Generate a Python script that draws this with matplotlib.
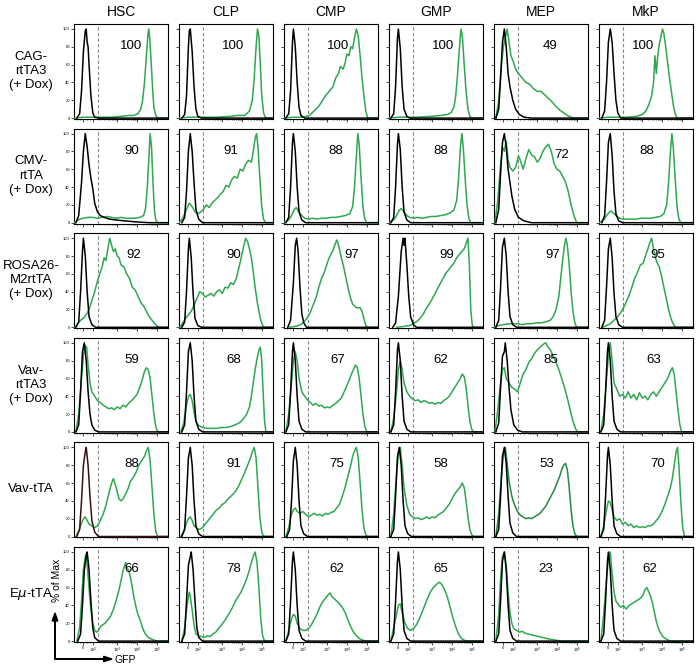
import numpy as np
import matplotlib
matplotlib.use("Agg")
import matplotlib.pyplot as plt

plt.rcParams['font.family'] = ['Liberation Sans', 'DejaVu Sans']

populations = ["HSC", "CLP", "CMP", "GMP", "MEP", "MkP"]
strains = ["CAG-\nrtTA3\n(+ Dox)", "CMV-\nrtTA\n(+ Dox)", "ROSA26-\nM2rtTA\n(+ Dox)",
           "Vav-\nrtTA3\n(+ Dox)", "Vav-tTA", "E$\\mu$-tTA"]
pct_gfp = [
    [100, 100, 100, 100, 49, 100],
    [90, 91, 88, 88, 72, 88],
    [92, 90, 97, 99, 97, 95],
    [59, 68, 67, 62, 85, 63],
    [88, 91, 75, 58, 53, 70],
    [66, 78, 62, 65, 23, 62],
]
label_x = [
    [61, 58, 58, 58, 60, 47],
    [61, 55, 55, 55, 72, 51],
    [64, 58, 72, 61, 63, 62],
    [61, 58, 57, 55, 60, 58],
    [61, 58, 56, 55, 56, 62],
    [61, 58, 56, 55, 55, 54],
]
label_y = [
    [81, 81, 81, 81, 81, 81],
    [81, 81, 81, 81, 76, 81],
    [81, 81, 81, 81, 81, 81],
    [81, 81, 81, 81, 81, 81],
    [81, 81, 81, 81, 81, 81],
    [81, 81, 81, 81, 81, 81],
]
gate_x = 25
tick_pos = [10, 20, 46, 67, 88]
tick_text = ["0", "10$^2$", "10$^3$", "10$^4$", "10$^5$"]

# ---- control (black) histograms: (GFP channel, % of max) ----
blk_cag_hsc = [(3,0),(6,5),(8,30),(10,75),(12,98),(13,100),(14,85),(15,80),(16,60),(18,25),(20,6),(22,1),(26,0),(100,0)]
blk_cag_clp = [(3,0),(6,4),(8,25),(10,80),(11,98),(12,100),(14,75),(16,35),(18,10),(20,2),(24,0),(100,0)]
blk_cag_cmp = [(2,0),(5,5),(7,30),(9,85),(10,100),(12,80),(14,40),(16,12),(18,3),(22,0),(100,0)]
blk_cag_gmp = [(2,0),(5,5),(7,35),(9,90),(10,100),(12,78),(14,35),(16,10),(19,2),(22,0),(100,0)]
blk_cag_mep = [(2,0),(5,10),(7,45),(9,85),(11,100),(13,80),(15,50),(17,35),(20,20),(23,10),(27,4),(32,1),(40,0),(100,0)]
blk_cag_mkp = [(3,0),(6,8),(8,40),(10,85),(12,100),(14,85),(16,50),(18,20),(20,6),(23,0),(100,0)]

blk_cmv_hsc = [(2,0),(5,8),(8,45),(10,80),(12,100),(14,85),(16,65),(18,50),(20,38),(22,22),(25,12),(28,8),(32,6),(38,4),(45,3),(55,2),(65,1),(80,0),(100,0)]
blk_cmv_clp = [(3,0),(6,6),(8,35),(10,80),(12,100),(14,80),(16,45),(18,15),(21,4),(25,0),(100,0)]
blk_cmv_cmp = [(2,0),(5,6),(7,40),(9,90),(10,100),(12,80),(14,40),(16,12),(19,3),(23,0),(100,0)]
blk_cmv_gmp = [(2,0),(5,6),(7,40),(9,88),(10,100),(12,82),(14,40),(16,12),(19,3),(23,0),(100,0)]
blk_cmv_mep = [(2,0),(5,15),(7,55),(9,90),(11,100),(13,85),(15,60),(17,45),(19,30),(22,15),(26,6),(32,2),(40,0),(100,0)]
blk_cmv_mkp = [(3,0),(6,8),(8,45),(10,90),(12,100),(14,75),(16,35),(18,10),(21,2),(25,0),(100,0)]

blk_r26_hsc = [(2,0),(5,6),(7,40),(9,85),(10,100),(12,80),(14,40),(16,12),(19,3),(23,0),(100,0)]
blk_r26_clp = [(3,0),(6,6),(8,40),(10,88),(11,100),(13,78),(15,38),(17,10),(20,2),(24,0),(100,0)]
blk_r26_cmp = [(4,0),(7,8),(10,50),(12,92),(13.5,100),(15,85),(17,45),(19,15),(21,5),(24,0),(100,0)]
blk_r26_gmp = [(4,0),(7,5),(10,35),(13,85),(15,100),(16,92),(17,100),(19,70),(21,35),(23,12),(26,3),(29,0),(100,0)]
blk_r26_mep = [(2,0),(5,8),(7,45),(9,90),(11,100),(13,80),(15,40),(17,12),(20,3),(24,0),(100,0)]
blk_r26_mkp = [(3,0),(6,8),(8,45),(10,88),(12,100),(14,78),(16,38),(18,12),(21,3),(25,0),(100,0)]

blk_vr_hsc = [(2,0),(5,8),(7,45),(9,90),(11,100),(13,80),(15,45),(17,20),(19,8),(22,2),(26,0),(100,0)]
blk_vr_clp = [(3,0),(6,8),(8,45),(10,90),(12,100),(14,80),(16,40),(18,12),(21,3),(25,0),(100,0)]
blk_vr_cmp = [(2,0),(5,8),(7,45),(9,90),(10,100),(12,80),(14,40),(16,12),(19,3),(23,0),(100,0)]
blk_vr_gmp = [(2,0),(5,8),(7,45),(9,92),(10,100),(12,80),(14,40),(16,12),(19,3),(23,0),(100,0)]
blk_vr_mep = [(2,0),(5,10),(7,50),(9,85),(11,90),(12,100),(14,80),(16,50),(18,25),(21,8),(25,2),(30,0),(100,0)]
blk_vr_mkp = [(2,0),(5,8),(7,45),(9,90),(10,100),(12,80),(14,40),(16,12),(19,3),(23,0),(100,0)]

blk_vt_hsc = [(3,0),(6,8),(8,40),(10,80),(12,95),(13,100),(15,80),(17,45),(19,18),(22,5),(26,0),(100,0)]
blk_vt_clp = [(3,0),(6,8),(8,45),(10,88),(12,100),(14,80),(16,40),(18,12),(21,3),(25,0),(100,0)]
blk_vt_cmp = [(3,0),(6,8),(8,40),(10,85),(12,100),(14,80),(16,40),(18,12),(21,3),(25,0),(100,0)]
blk_vt_gmp = [(2,0),(5,8),(7,45),(9,90),(11,100),(13,80),(15,40),(17,12),(20,3),(24,0),(100,0)]
blk_vt_mep = [(2,0),(5,8),(7,45),(9,90),(11,100),(13,82),(15,45),(17,15),(20,4),(24,0),(100,0)]
blk_vt_mkp = [(2,0),(5,8),(7,45),(9,90),(10,100),(12,80),(14,40),(16,12),(19,3),(23,0),(100,0)]

blk_em_hsc = [(4,0),(7,8),(9,40),(11,80),(13,95),(14,100),(16,80),(18,45),(20,15),(22,4),(26,0),(100,0)]
blk_em_clp = [(3,0),(6,8),(8,45),(10,85),(12,95),(13,100),(15,80),(17,45),(19,15),(21,4),(25,0),(100,0)]
blk_em_cmp = [(2,0),(5,8),(7,45),(9,90),(10,100),(12,80),(14,40),(16,12),(19,3),(23,0),(100,0)]
blk_em_gmp = [(2,0),(5,8),(7,45),(9,90),(10,100),(12,80),(14,40),(16,12),(19,3),(23,0),(100,0)]
blk_em_mep = [(2,0),(5,8),(7,45),(9,90),(11,100),(13,80),(15,40),(17,12),(20,3),(24,0),(100,0)]
blk_em_mkp = [(2,0),(5,8),(7,45),(9,90),(10,100),(12,80),(14,40),(16,12),(19,3),(23,0),(100,0)]

# ---- GFP (green) histograms ----
grn_cag_hsc = [(0,0),(10,1),(20,1),(30,1),(40,1),(50,2),(58,3),(64,3),(68,5),(71,10),(73,20),(75,40),(77,70),(78.5,92),(79.5,100),(80.5,90),(82,65),(83.5,35),(85,12),(87,3),(89,0),(100,0)]
grn_cag_clp = [(0,0),(10,1),(20,1),(30,1),(40,1),(55,2),(62,3),(70,3),(75,8),(78,20),(80,45),(82,80),(83.5,100),(85,92),(86.5,60),(88,25),(90,6),(92,0),(100,0)]
grn_cag_cmp = [(0,0),(10,1),(20,1),(27,3),(32,8),(36,12),(40,18),(44,25),(48,30),(52,35),(55,45),(58,50),(60,58),(63,55),(65,62),(67,72),(69,70),(71,80),(73,78),(75,90),(77,100),(79,92),(81,70),(83,45),(85,25),(87,8),(89,0),(100,0)]
grn_cag_gmp = [(0,0),(10,1),(20,1),(30,1),(45,2),(55,3),(62,4),(66,6),(69,12),(71,25),(73,50),(75,80),(76.5,100),(78,92),(80,60),(82,30),(84,10),(86,2),(88,0),(100,0)]
grn_cag_mep = [(2,0),(5,20),(8,60),(10,80),(12,90),(14,100),(16,85),(18,70),(20,65),(23,55),(26,50),(30,45),(34,40),(38,38),(42,33),(46,30),(50,30),(54,26),(58,22),(62,18),(66,13),(70,9),(74,6),(78,3),(82,1),(86,0),(100,0)]
grn_cag_mkp = [(0,0),(10,1),(20,1),(30,1),(40,2),(46,4),(50,8),(53,15),(56,25),(58,40),(59.5,70),(61,50),(62.5,70),(64,82),(66,92),(67.5,100),(69,95),(71,80),(73,62),(75,45),(77,30),(79,15),(81,5),(83,0),(100,0)]

grn_cmv_hsc = [(0,0),(3,2),(6,4),(10,5),(15,6),(20,6),(25,5),(30,6),(35,7),(40,6),(45,5),(50,6),(55,5),(60,5),(65,5),(70,6),(74,8),(76,15),(78,40),(80,80),(81,100),(82.5,85),(84,45),(85.5,15),(87,3),(89,0),(100,0)]
grn_cmv_clp = [(0,0),(4,5),(8,15),(11,22),(14,18),(17,12),(20,10),(23,12),(26,15),(29,20),(32,17),(35,22),(38,25),(41,28),(44,32),(47,35),(50,42),(53,40),(56,48),(59,52),(62,50),(65,60),(68,58),(71,66),(74,70),(77,68),(79,80),(81,95),(82.5,100),(84,85),(86,50),(88,18),(90,4),(92,0),(100,0)]
grn_cmv_cmp = [(0,0),(5,3),(8,8),(11,15),(13,17),(16,12),(19,8),(22,5),(26,4),(30,5),(35,4),(40,5),(45,5),(50,6),(55,6),(60,7),(65,8),(70,10),(73,18),(75,40),(77,75),(78.5,100),(80,88),(82,50),(84,18),(86,4),(88,0),(100,0)]
grn_cmv_gmp = [(0,0),(5,3),(8,8),(11,14),(13,16),(16,12),(19,8),(22,6),(26,5),(30,6),(35,5),(40,6),(45,7),(50,7),(55,8),(60,9),(65,11),(69,14),(72,25),(74,50),(76,85),(77.5,100),(79,85),(81,50),(83,20),(85,5),(87,0),(100,0)]
grn_cmv_mep = [(1,0),(4,25),(7,65),(9,85),(11,80),(13,92),(15,70),(17,62),(20,58),(23,62),(26,75),(28,70),(31,60),(34,72),(37,82),(40,76),(43,74),(46,68),(49,72),(52,80),(55,85),(58,88),(61,80),(64,66),(67,60),(70,58),(73,52),(76,46),(79,35),(82,20),(85,8),(88,0),(100,0)]
grn_cmv_mkp = [(0,0),(5,3),(8,8),(11,12),(13,13),(16,10),(19,7),(22,5),(26,4),(30,4),(35,4),(40,4),(45,5),(50,5),(55,5),(60,6),(65,7),(69,10),(72,20),(74,45),(76,80),(77.5,100),(79,85),(81,50),(83,18),(85,4),(87,0),(100,0)]

grn_r26_hsc = [(1,0),(4,4),(7,8),(10,10),(13,14),(16,20),(19,30),(22,40),(25,52),(28,62),(30,68),(32,78),(34,75),(36,88),(38,100),(40,92),(42,85),(44,88),(46,80),(48,78),(50,70),(53,68),(56,60),(59,55),(62,45),(65,42),(68,35),(71,28),(74,24),(77,18),(80,12),(83,8),(86,4),(89,1),(92,0),(100,0)]
grn_r26_clp = [(1,0),(4,5),(7,10),(10,14),(13,18),(16,25),(19,32),(22,40),(25,38),(28,34),(31,36),(34,38),(37,35),(40,40),(43,42),(46,38),(49,45),(52,44),(55,50),(58,48),(61,55),(64,68),(67,82),(69,92),(71,100),(73,96),(75,88),(77,78),(79,62),(81,45),(83,30),(85,18),(87,8),(89,2),(91,0),(100,0)]
grn_r26_cmp = [(6,0),(12,1),(18,3),(22,7),(25,11),(28,17),(31,25),(34,33),(37,45),(40,55),(43,62),(46,72),(48,78),(50,82),(52,86),(54,92),(56,98),(57,96),(59,88),(61,78),(63,70),(65,60),(67,50),(69,40),(71,32),(73,26),(75,24),(77,22),(79,22),(81,22),(83,18),(85,10),(87,2),(89,0),(100,0)]
grn_r26_gmp = [(8,0),(16,1),(22,2),(26,4),(30,7),(33,10),(36,14),(39,20),(42,25),(45,30),(48,36),(51,42),(54,48),(57,54),(60,60),(63,64),(66,68),(69,72),(72,78),(75,82),(78,86),(80,88),(82,94),(84,100),(85.5,70),(87,20),(88.5,3),(90,0),(100,0)]
grn_r26_mep = [(0,0),(5,2),(10,3),(15,4),(20,4),(25,4),(30,3),(35,4),(40,4),(45,5),(50,5),(55,6),(60,8),(63,12),(66,20),(69,35),(71,55),(73,75),(75,92),(76.5,100),(78,92),(80,70),(82,40),(84,18),(86,5),(88,0),(100,0)]
grn_r26_mkp = [(4,0),(8,2),(12,4),(16,8),(20,12),(24,18),(28,26),(32,36),(35,45),(38,55),(41,62),(44,70),(47,72),(50,82),(52,88),(54,95),(56,100),(58,88),(60,78),(62,72),(64,68),(66,60),(68,50),(70,40),(72,30),(74,20),(76,12),(78,6),(80,2),(82,0),(100,0)]

grn_vr_hsc = [(2,0),(5,20),(8,60),(10,85),(12,97),(13.5,95),(15,75),(17,55),(19,45),(22,40),(25,35),(28,33),(31,30),(34,28),(37,26),(40,27),(43,25),(46,28),(49,26),(52,30),(55,28),(58,32),(61,35),(64,38),(67,42),(70,50),(73,60),(75,68),(77,72),(79,70),(81,60),(83,40),(85,20),(87,6),(89,0),(100,0)]
grn_vr_clp = [(2,0),(5,10),(8,30),(10,40),(12,42),(14,35),(16,22),(18,12),(21,7),(25,5),(30,4),(35,4),(40,4),(45,5),(50,5),(55,6),(60,8),(64,10),(68,14),(72,20),(75,28),(77,40),(79,55),(81,70),(83,82),(85,92),(86.5,95),(88,80),(89.5,45),(91,12),(92.5,0),(100,0)]
grn_vr_cmp = [(2,0),(5,20),(8,55),(10,80),(12,90),(14,80),(16,60),(19,45),(22,40),(25,36),(28,33),(31,30),(34,32),(37,29),(40,30),(43,27),(46,28),(49,27),(52,30),(55,32),(58,35),(61,38),(64,45),(67,52),(70,60),(73,68),(76,75),(78,72),(80,60),(82,40),(84,20),(86,6),(88,0),(100,0)]
grn_vr_gmp = [(2,0),(5,15),(8,45),(10,70),(12,80),(14,70),(16,55),(19,45),(22,40),(25,37),(28,35),(31,36),(34,33),(37,35),(40,34),(43,32),(46,33),(49,31),(52,33),(55,32),(58,35),(61,37),(64,40),(67,45),(70,50),(73,55),(76,60),(78,65),(80,62),(82,50),(84,30),(86,12),(88,3),(90,0),(100,0)]
grn_vr_mep = [(1,0),(4,25),(7,55),(9,70),(11,72),(13,60),(16,55),(19,50),(22,48),(25,45),(28,55),(31,65),(34,70),(37,78),(40,82),(43,88),(46,92),(49,95),(52,98),(55,100),(57,96),(60,92),(63,85),(66,78),(69,70),(72,60),(75,50),(78,38),(81,25),(84,12),(87,3),(89,0),(100,0)]
grn_vr_mkp = [(2,0),(5,20),(8,60),(10,85),(12,100),(14,80),(16,55),(19,48),(22,40),(25,42),(28,38),(31,45),(34,38),(37,42),(40,36),(43,44),(46,38),(49,40),(52,36),(55,42),(58,45),(61,40),(64,45),(67,50),(70,55),(73,60),(76,68),(78,72),(80,65),(82,45),(84,25),(86,8),(88,0),(100,0)]

grn_vt_hsc = [(2,0),(5,6),(8,15),(10,20),(12,22),(14,18),(16,14),(19,12),(22,10),(25,12),(28,18),(31,25),(34,35),(37,48),(40,60),(42,65),(44,58),(46,50),(48,42),(50,40),(52,42),(54,46),(56,50),(58,55),(60,62),(63,66),(66,72),(69,80),(72,85),(75,90),(77,96),(79,100),(81,85),(83,55),(85,25),(87,6),(89,0),(100,0)]
grn_vt_clp = [(2,0),(5,6),(8,15),(10,20),(12,22),(14,18),(16,12),(19,9),(22,8),(25,10),(28,14),(31,18),(34,22),(37,26),(40,30),(43,32),(46,36),(49,38),(52,42),(55,45),(58,48),(61,52),(64,58),(67,65),(70,72),(73,80),(76,88),(78,95),(80,100),(82,88),(84,55),(86,22),(88,5),(90,0),(100,0)]
grn_vt_cmp = [(2,0),(5,10),(8,25),(10,30),(12,32),(14,28),(17,26),(20,28),(23,25),(26,22),(29,24),(32,26),(35,24),(38,25),(41,23),(44,26),(47,25),(50,27),(53,28),(56,32),(59,36),(62,45),(65,55),(68,68),(71,80),(73,90),(75,96),(77,100),(79,88),(81,60),(83,30),(85,10),(87,2),(89,0),(100,0)]
grn_vt_gmp = [(2,0),(5,25),(8,70),(10,92),(12,100),(14,80),(16,55),(19,35),(22,25),(25,22),(28,20),(31,21),(34,19),(37,20),(40,22),(43,20),(46,22),(49,21),(52,24),(55,26),(58,28),(61,32),(64,36),(67,42),(70,48),(73,52),(76,56),(78,60),(80,55),(82,40),(84,22),(86,8),(88,2),(90,0),(100,0)]
grn_vt_mep = [(2,0),(5,25),(8,70),(10,92),(12,100),(14,82),(16,62),(19,45),(22,35),(25,28),(28,24),(31,22),(34,20),(37,21),(40,20),(43,22),(46,24),(49,26),(52,30),(55,34),(58,40),(61,46),(64,52),(67,60),(70,68),(72,75),(74,80),(76,82),(78,75),(80,55),(82,30),(84,12),(86,3),(88,0),(100,0)]
grn_vt_mkp = [(2,0),(5,12),(8,30),(10,40),(12,38),(14,30),(16,22),(19,18),(22,20),(25,14),(28,16),(31,12),(34,14),(37,10),(40,12),(43,10),(46,11),(49,10),(52,12),(55,12),(58,14),(61,18),(64,22),(67,28),(70,36),(73,45),(76,55),(78,65),(80,80),(82,95),(83.5,100),(85,80),(87,40),(89,10),(91,0),(100,0)]

grn_em_hsc = [(3,0),(6,15),(8,45),(10,80),(12,95),(13,98),(14,85),(16,60),(18,35),(20,20),(22,12),(24,10),(26,12),(28,16),(30,18),(33,20),(36,24),(39,28),(42,36),(45,46),(48,58),(50,68),(52,78),(54,85),(55,88),(56,82),(58,80),(60,72),(62,60),(64,48),(66,38),(68,30),(70,25),(72,18),(74,12),(76,8),(79,4),(83,2),(88,0),(100,0)]
grn_em_clp = [(3,0),(6,15),(8,35),(10,50),(11,55),(12,50),(14,35),(16,18),(18,8),(21,6),(24,5),(27,4),(30,6),(33,5),(36,8),(39,10),(42,14),(45,18),(48,22),(51,27),(54,32),(57,38),(60,45),(63,50),(66,55),(69,62),(72,70),(75,80),(77,88),(79,95),(81,100),(83,88),(85,60),(87,25),(89,6),(91,0),(100,0)]
grn_em_cmp = [(2,0),(5,12),(8,25),(10,30),(12,28),(14,20),(17,14),(20,12),(23,12),(26,14),(29,18),(32,24),(35,30),(38,38),(41,44),(44,48),(47,52),(49,54),(51,50),(53,48),(56,45),(59,42),(62,38),(65,32),(68,24),(71,16),(74,10),(77,6),(80,3),(84,1),(88,0),(100,0)]
grn_em_gmp = [(2,0),(5,15),(8,30),(10,40),(12,42),(14,32),(17,20),(20,14),(23,12),(26,14),(29,18),(32,24),(35,32),(38,40),(41,48),(44,55),(47,60),(50,63),(53,66),(55,65),(57,62),(59,58),(62,50),(65,38),(68,26),(71,16),(74,8),(77,3),(80,1),(84,0),(100,0)]
grn_em_mep = [(2,0),(5,30),(7,70),(9,95),(11,100),(13,85),(15,55),(17,32),(19,20),(21,14),(24,12),(27,10),(30,11),(33,9),(36,8),(40,7),(44,6),(48,5),(52,4),(56,3),(60,2),(66,1),(72,0),(100,0)]
grn_em_mkp = [(2,0),(5,30),(8,70),(10,92),(12,100),(14,75),(16,55),(18,45),(20,42),(23,38),(26,40),(29,36),(32,40),(35,42),(38,44),(41,46),(44,48),(47,52),(49,58),(51,60),(53,55),(55,50),(57,42),(59,32),(61,22),(63,15),(65,10),(68,5),(72,2),(76,0),(100,0)]

black_curves = [
    [blk_cag_hsc, blk_cag_clp, blk_cag_cmp, blk_cag_gmp, blk_cag_mep, blk_cag_mkp],
    [blk_cmv_hsc, blk_cmv_clp, blk_cmv_cmp, blk_cmv_gmp, blk_cmv_mep, blk_cmv_mkp],
    [blk_r26_hsc, blk_r26_clp, blk_r26_cmp, blk_r26_gmp, blk_r26_mep, blk_r26_mkp],
    [blk_vr_hsc, blk_vr_clp, blk_vr_cmp, blk_vr_gmp, blk_vr_mep, blk_vr_mkp],
    [blk_vt_hsc, blk_vt_clp, blk_vt_cmp, blk_vt_gmp, blk_vt_mep, blk_vt_mkp],
    [blk_em_hsc, blk_em_clp, blk_em_cmp, blk_em_gmp, blk_em_mep, blk_em_mkp],
]
green_curves = [
    [grn_cag_hsc, grn_cag_clp, grn_cag_cmp, grn_cag_gmp, grn_cag_mep, grn_cag_mkp],
    [grn_cmv_hsc, grn_cmv_clp, grn_cmv_cmp, grn_cmv_gmp, grn_cmv_mep, grn_cmv_mkp],
    [grn_r26_hsc, grn_r26_clp, grn_r26_cmp, grn_r26_gmp, grn_r26_mep, grn_r26_mkp],
    [grn_vr_hsc, grn_vr_clp, grn_vr_cmp, grn_vr_gmp, grn_vr_mep, grn_vr_mkp],
    [grn_vt_hsc, grn_vt_clp, grn_vt_cmp, grn_vt_gmp, grn_vt_mep, grn_vt_mkp],
    [grn_em_hsc, grn_em_clp, grn_em_cmp, grn_em_gmp, grn_em_mep, grn_em_mkp],
]

W, H = 697, 667
fig = plt.figure(figsize=(W / 100, H / 100), dpi=100)

GREEN = '#2ea84f'
minor = []
for a, b in [(20, 46), (46, 67), (67, 88)]:
    for k in range(2, 10):
        minor.append(a + (b - a) * np.log10(k))
minor += [3, 6, 14, 17]

for r in range(6):
    for c in range(6):
        left = 74 + 105 * c
        top = 24 + 104.6 * r
        ax = fig.add_axes([left / W, 1 - (top + 95) / H, 94 / W, 95 / H])
        bx, by = zip(*black_curves[r][c])
        gx, gy = zip(*green_curves[r][c])
        gcol = '#1f8a43' if (r == 4 and c == 4) else GREEN
        ax.plot(gx, gy, color=gcol, lw=1.1, zorder=3)
        bcol = '#3a1010' if (r == 4 and c == 0) else 'black'
        ax.plot(bx, by, color=bcol, lw=1.1, zorder=4)
        ax.axvline(gate_x, color='#888888', lw=0.8, ls=(0, (3, 2)), zorder=2)
        ax.text(label_x[r][c], label_y[r][c], str(pct_gfp[r][c]), ha='center', va='center', fontsize=9.5)
        ax.set_xlim(0, 100)
        ax.set_ylim(-1, 105.6)
        ax.set_xticks(tick_pos)
        ax.set_xticks(minor, minor=True)
        ax.set_yticks([0, 20, 40, 60, 80, 100])
        ax.tick_params(axis='both', which='major', length=2, width=0.5, labelsize=3, pad=1)
        ax.tick_params(axis='x', which='minor', length=1, width=0.4)
        if r == 5:
            ax.set_xticklabels(tick_text)
        else:
            ax.set_xticklabels([])
        if c != 0:
            ax.set_yticklabels([])
        for s in ax.spines.values():
            s.set_linewidth(0.8)
        if r == 0:
            ax.set_title(populations[c], fontsize=10, pad=6)

for r in range(6):
    yc = 24 + 104.6 * r + 47
    fig.text(31 / W, 1 - yc / H, strains[r], ha='center', va='center', fontsize=9.5, linespacing=1.25)

fig.text(57 / W, 1 - 580 / H, "% of Max", rotation=90, ha='center', va='center', fontsize=7.5)
fig.text(115 / W, 1 - 660 / H, "GFP", ha='left', va='center', fontsize=7.5)
fig.patches.append(matplotlib.patches.FancyArrow(55 / W, 1 - 659 / H, 0, 46 / H, width=0.0008,
                   head_width=0.008, head_length=0.012, length_includes_head=True,
                   color='black', transform=fig.transFigure, figure=fig))
fig.patches.append(matplotlib.patches.FancyArrow(55 / W, 1 - 659 / H, 57 / W, 0, width=0.0009,
                   head_width=0.008, head_length=0.012, length_includes_head=True,
                   color='black', transform=fig.transFigure, figure=fig))

fig.savefig("out.png", dpi=100)
